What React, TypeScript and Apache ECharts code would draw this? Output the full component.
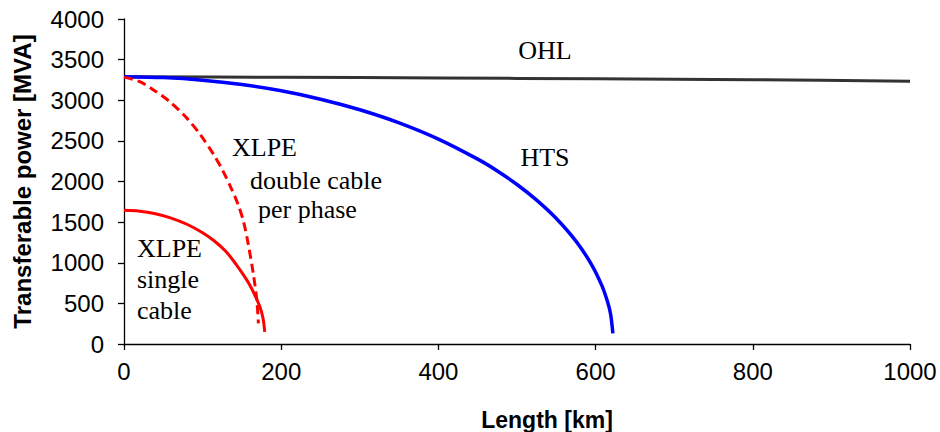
import React, { useEffect, useRef } from "react";
import * as echarts from "echarts";

// Transferable power [MVA] versus line length [km]
const ohlKm = [0, 200, 400, 600, 800, 1000];
const ohlMva = [3290, 3283, 3274, 3264, 3252, 3235];

const htsKm = [0, 50, 100, 150, 200, 250, 300, 350, 400, 450, 475, 500, 525, 550, 575, 595, 608, 615, 619, 622];
const htsMva = [3290, 3279, 3247, 3193, 3116, 3013, 2883, 2722, 2522, 2275, 2130, 1963, 1771, 1545, 1266, 975, 718, 525, 372, 130];

const xlpeDoubleKm = [0, 20, 37, 58, 80, 97, 114, 126, 137, 145, 152, 158, 164.5, 169, 171];
const xlpeDoubleMva = [3285, 3229, 3130, 2985, 2780, 2577, 2333, 2128, 1904, 1720, 1510, 1232, 865, 538, 253];

const xlpeSingleKm = [0, 20, 40, 60, 80, 100, 115, 130, 143, 152, 160, 167, 173, 177, 179];
const xlpeSingleMva = [1645, 1635, 1603, 1550, 1474, 1370, 1268, 1135, 975, 850, 725, 590, 455, 310, 150];

const xTicks = { min: 0, max: 1000, interval: 200 };
const yTicks = { min: 0, max: 4000, interval: 500 };

const pairs = (xs: number[], ys: number[]) => xs.map((x, i) => [x, ys[i]]);

const SANS = '"Liberation Sans", Arial, sans-serif';
const SERIF = '"Liberation Serif", "Times New Roman", serif';

const annotation = (text: string, x: number, y: number, align = "left") => ({
  type: "text",
  x,
  y,
  style: {
    text,
    fill: "#000",
    font: `26px ${SERIF}`,
    textAlign: align,
    textVerticalAlign: "middle",
  },
});

export default function App() {
  const ref = useRef<HTMLDivElement>(null);

  useEffect(() => {
    if (!ref.current) return;
    const chart = echarts.init(ref.current, null, { renderer: "svg" });
    const axisCommon = {
      axisLine: { show: true, onZero: false, lineStyle: { color: "#000", width: 1.3 } },
      axisTick: { show: true, inside: false, length: 6, lineStyle: { color: "#000", width: 1.3 } },
      splitLine: { show: false },
    };
    const plain = (v: number) => String(v);
    chart.setOption({
      animation: false,
      backgroundColor: "#fff",
      grid: {
        left: 124,
        right: 30,
        top: 19,
        bottom: 88,
        containLabel: false,
        outerBoundsMode: "none",
      },
      xAxis: {
        type: "value",
        ...xTicks,
        ...axisCommon,
        axisLabel: { color: "#000", fontSize: 24, fontFamily: SANS, margin: 15, formatter: plain },
        name: "Length [km]",
        nameLocation: "middle",
        nameGap: 64,
        nameTextStyle: {
          color: "#000",
          fontSize: 23,
          fontWeight: "bold",
          fontFamily: SANS,
          padding: [0, 0, 0, 60],
        },
      },
      yAxis: {
        type: "value",
        ...yTicks,
        ...axisCommon,
        axisLabel: { color: "#000", fontSize: 24, fontFamily: SANS, margin: 20, formatter: plain },
        name: "Transferable power [MVA]",
        nameLocation: "middle",
        nameGap: 90,
        nameTextStyle: { color: "#000", fontSize: 24, fontWeight: "bold", fontFamily: SANS },
      },
      series: [
        {
          name: "OHL",
          type: "line",
          data: pairs(ohlKm, ohlMva),
          showSymbol: false,
          smooth: 0.3,
          lineStyle: { color: "#333333", width: 3 },
        },
        {
          name: "HTS",
          type: "line",
          data: pairs(htsKm, htsMva),
          showSymbol: false,
          smooth: 0.3,
          lineStyle: { color: "#0000ff", width: 3.5 },
        },
        {
          name: "XLPE double cable per phase",
          type: "line",
          data: pairs(xlpeDoubleKm, xlpeDoubleMva),
          showSymbol: false,
          smooth: 0.3,
          lineStyle: { color: "#ff0000", width: 3, type: [9, 5] },
        },
        {
          name: "XLPE single cable",
          type: "line",
          data: pairs(xlpeSingleKm, xlpeSingleMva),
          showSymbol: false,
          smooth: 0.3,
          lineStyle: { color: "#ff0000", width: 3 },
        },
      ],
      graphic: [
        annotation("OHL", 545, 50, "center"),
        annotation("HTS", 545, 157, "center"),
        annotation("XLPE", 232, 147),
        annotation("double cable", 250, 180),
        annotation("per phase", 258, 209),
        annotation("XLPE", 137, 248),
        annotation("single", 137, 279),
        annotation("cable", 137, 310),
      ],
    });
    return () => chart.dispose();
  }, []);

  return (
    <div
      ref={ref}
      style={{ position: "absolute", left: 0, top: 0, width: 940, height: 432 }}
    />
  );
}
